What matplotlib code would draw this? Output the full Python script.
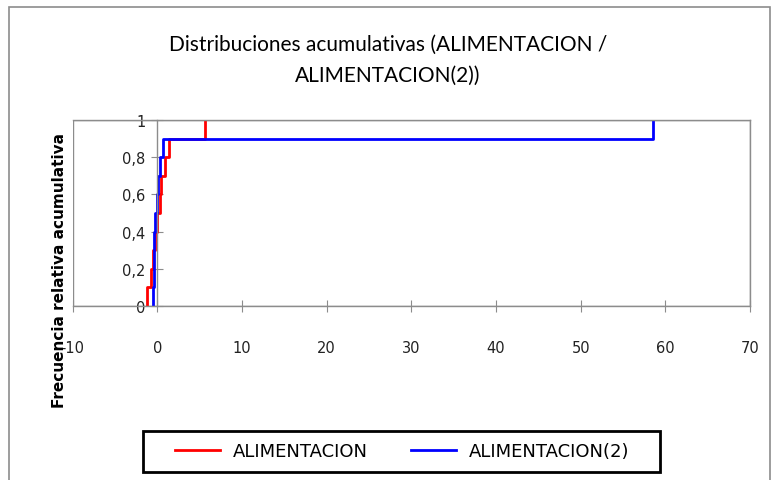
import numpy as np
import matplotlib
matplotlib.use('Agg')
import matplotlib.pyplot as plt
from matplotlib.patches import Rectangle

# sorted sample values
alim = [-1.25, -0.8, -0.5, -0.3, -0.08, 0.3, 0.47, 0.94, 1.37, 5.6]
alim2 = [-0.47, -0.45, -0.42, -0.38, -0.24, -0.08, 0.08, 0.3, 0.66, 58.6]
xticks = [-10, 0, 10, 20, 30, 40, 50, 60, 70]
yticks = [0, 0.2, 0.4, 0.6, 0.8, 1.0]
ytick_labels = ['0', '0,2', '0,4', '0,6', '0,8', '1']


def cdf_steps(vals):
    v = np.sort(np.asarray(vals, dtype=float))
    n = len(v)
    xs = np.repeat(v, 2)
    ys = np.empty(2 * n)
    ys[0::2] = np.arange(n) / n
    ys[1::2] = np.arange(1, n + 1) / n
    return xs, ys


W, H = 777, 481
fig = plt.figure(figsize=(W / 100, H / 100), dpi=100)

# chart area border (bottom edge is outside the image)
fig.add_artist(Rectangle((9 / W, -0.05), (770 - 9) / W, 1 - 8 / H + 0.05,
                         transform=fig.transFigure, fill=False,
                         edgecolor='#8c8c8c', linewidth=1.2))

ax = fig.add_axes([72.7 / W, 1 - 307 / H, (750 - 72.7) / W, (307 - 121) / H])

xr, yr = cdf_steps(alim)
xb, yb = cdf_steps(alim2)
ax.plot(xr, yr, color='#ff0000', linewidth=2.0, label='ALIMENTACION')
ax.plot(xb, yb, color='#0000ff', linewidth=2.0, label='ALIMENTACION(2)')

ax.set_xlim(-10, 70)
ax.set_ylim(0, 1)
ax.set_xticks(xticks)
ax.set_xticklabels([str(t) for t in xticks])
ax.set_yticks(yticks)
ax.set_yticklabels(ytick_labels)

gray = '#8c8c8c'
ax.spines['left'].set_position(('data', 0))
for s in ax.spines.values():
    s.set_color(gray)
    s.set_linewidth(1.0)
ax.add_patch(Rectangle((0, 0), 1, 1, transform=ax.transAxes, fill=False,
                       edgecolor=gray, linewidth=1.0, zorder=0))
ax.tick_params(axis='both', direction='inout', length=9, color=gray,
               labelsize=10.5, labelcolor='#222222')
ax.tick_params(axis='x', pad=20)
ax.tick_params(axis='y', pad=4)

fig.text(388 / W, 1 - 45 / H, 'Distribuciones acumulativas (ALIMENTACION /',
         ha='center', va='center', fontsize=15, family='Lato')
fig.text(388 / W, 1 - 76 / H, 'ALIMENTACION(2))',
         ha='center', va='center', fontsize=15, family='Lato')
fig.text(60 / W, 1 - 270 / H, 'Frecuencia relativa acumulativa', rotation=90,
         ha='center', va='center', fontsize=11, fontweight='bold')

# legend box drawn separately so its size matches the original
fig.add_artist(Rectangle((143 / W, 1 - 473 / H), (660 - 143) / W, 41 / H,
                         transform=fig.transFigure, fill=False,
                         edgecolor='black', linewidth=2))
fig.legend(loc='center', bbox_to_anchor=(402 / W, 1 - 452 / H), ncol=2,
           frameon=False, fontsize=13, handlelength=2.5, columnspacing=2.4,
           borderpad=0, borderaxespad=0, handletextpad=0.7)

fig.savefig('out.png', dpi=100)
